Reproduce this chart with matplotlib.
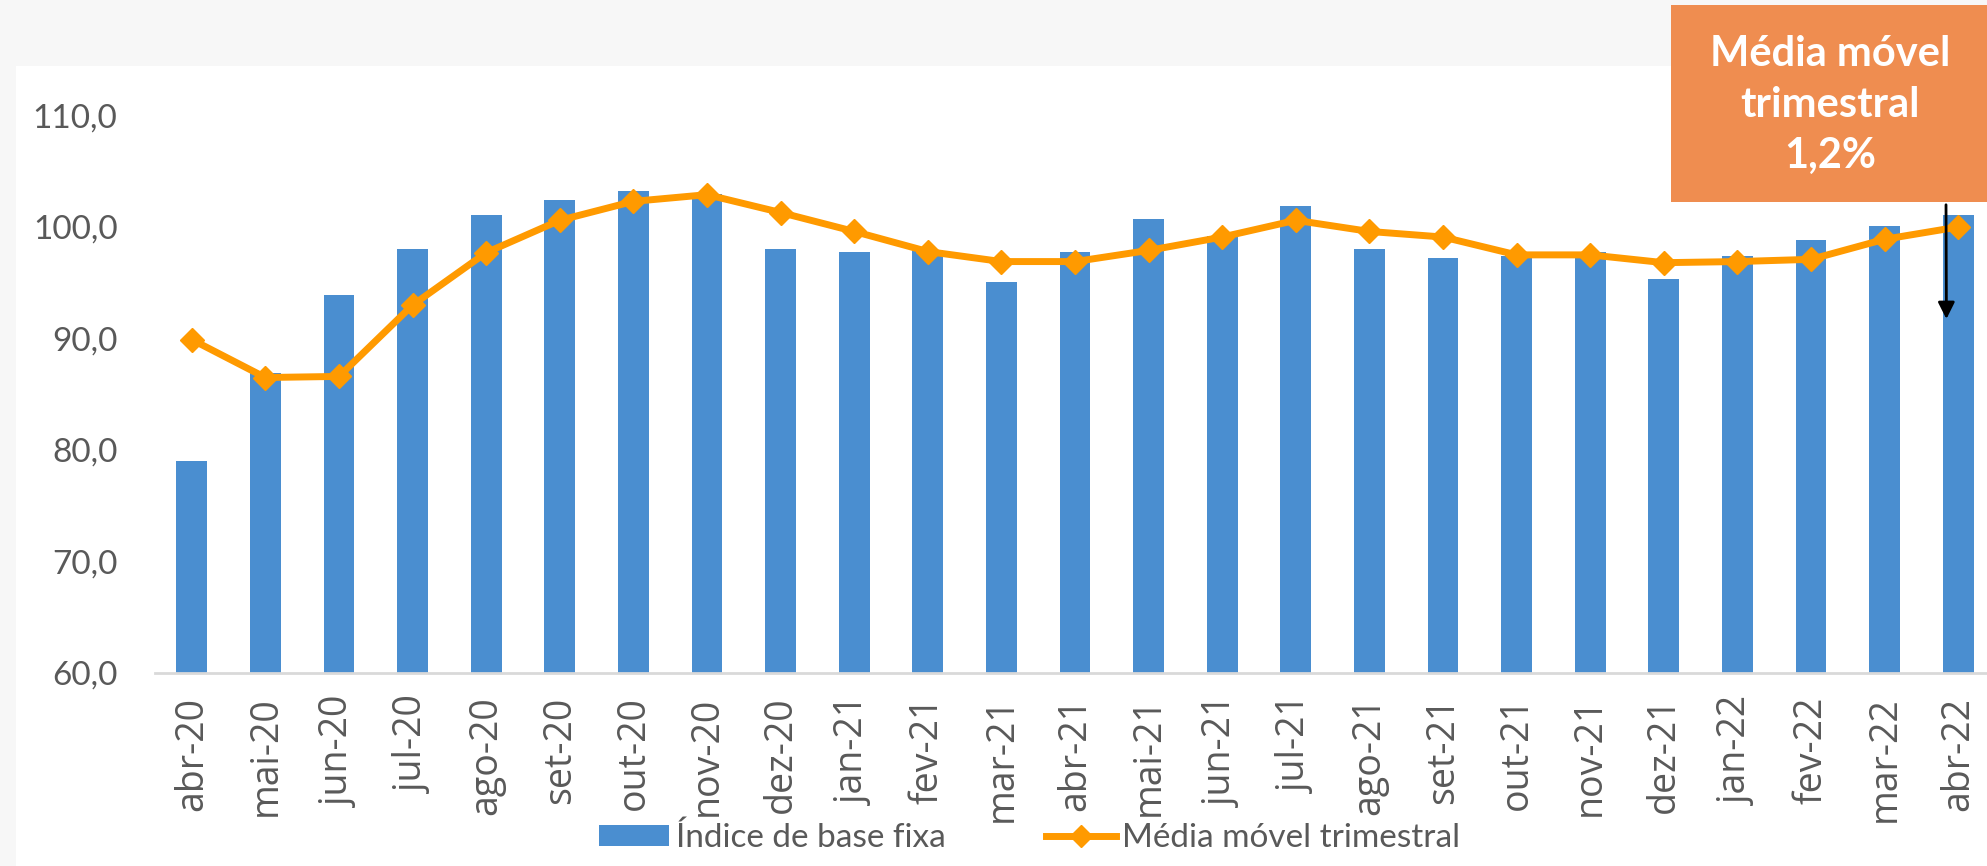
import numpy as np
import matplotlib.pyplot as plt
from matplotlib.patches import Rectangle
from matplotlib.lines import Line2D
from matplotlib.patches import Patch

### Data
months = ['abr-20', 'mai-20', 'jun-20', 'jul-20', 'ago-20', 'set-20', 'out-20', 'nov-20', 'dez-20',
          'jan-21', 'fev-21', 'mar-21', 'abr-21', 'mai-21', 'jun-21', 'jul-21', 'ago-21', 'set-21',
          'out-21', 'nov-21', 'dez-21', 'jan-22', 'fev-22', 'mar-22', 'abr-22']
indice_base_fixa = [79.0, 86.9, 93.9, 98.0, 101.1, 102.4, 103.2, 103.0, 98.0,
                    97.8, 97.9, 95.1, 97.8, 100.7, 99.2, 101.9, 98.0, 97.2,
                    97.4, 97.8, 95.3, 97.4, 98.8, 100.1, 101.1]
media_movel = [89.9, 86.5, 86.6, 93.0, 97.7, 100.6, 102.3, 102.9, 101.3,
               99.6, 97.8, 96.9, 96.9, 97.9, 99.1, 100.6, 99.6, 99.1,
               97.5, 97.5, 96.8, 96.9, 97.1, 98.9, 100.0]
yticks = [60, 70, 80, 90, 100, 110]
box_text = 'Média móvel\ntrimestral\n1,2%'

bar_color = '#4a8ed0'
line_color = '#ff9a00'
text_color = '#595959'
W, H = 1987, 866

fig = plt.figure(figsize=(W / 100, H / 100), dpi=100)
fig.patch.set_facecolor('#f7f7f7')
# white chart area (behind the axes)
fig.patches.append(Rectangle((16 / W, 0), 1 - 16 / W, 1 - 66 / H, transform=fig.transFigure,
                             facecolor='white', edgecolor='none', zorder=-5))

ax = fig.add_axes([155 / W, 1 - 673 / H, 1840 / W, (673 - 115.5) / H])
ax.set_facecolor('none')

x = np.arange(len(months))
ax.bar(x, indice_base_fixa, width=0.42, color=bar_color, zorder=2)
ax.plot(x, media_movel, color=line_color, lw=5, marker='D', markersize=12, zorder=3)

ax.set_xlim(-0.5, len(months) - 0.5)
ax.set_ylim(60, 110)
ax.set_yticks(yticks)
ax.set_yticklabels([f'{v:.1f}'.replace('.', ',') for v in yticks],
                   fontsize=24, family='Lato', color=text_color)
ax.set_xticks(x)
ax.set_xticklabels(months, rotation=90, fontsize=27, family='Open Sans', color=text_color)
ax.tick_params(axis='y', length=0, pad=27)
ax.tick_params(axis='x', length=0, pad=17)

for s in ['top', 'right', 'left']:
    ax.spines[s].set_visible(False)
ax.spines['bottom'].set_color('#d9d9d9')
ax.spines['bottom'].set_linewidth(2)
ax.spines['bottom'].set_zorder(4)

# legend
handles = [Patch(facecolor=bar_color),
           Line2D([], [], color=line_color, lw=5, marker='D', markersize=11)]
fig.legend(handles, ['Índice de base fixa', 'Média móvel trimestral'], loc='center',
           bbox_to_anchor=(1030 / W, 1 - 838 / H), ncol=2, frameon=False,
           prop={'family': 'Lato', 'size': 24}, labelcolor=text_color,
           handlelength=2.1, handleheight=0.6, handletextpad=0.2, columnspacing=3.0)

# annotation box + arrow
fig.patches.append(Rectangle((1671 / W, 1 - 202 / H), (W - 1671) / W, 197 / H,
                             transform=fig.transFigure, facecolor='#ef8d50',
                             edgecolor='none', zorder=5))
fig.text(1830 / W, 1 - 105 / H, box_text, ha='center', va='center', color='white',
         fontsize=30, fontweight='bold', family='Lato', linespacing=1.42, zorder=6)
ax.annotate('', xy=(23.84, 91.5), xycoords='data',
            xytext=(1946 / W, 1 - 202 / H), textcoords='figure fraction',
            arrowprops=dict(arrowstyle='-|>', color='black', lw=2, mutation_scale=25),
            zorder=6)

fig.savefig('out.png', dpi=100, facecolor=fig.get_facecolor())
